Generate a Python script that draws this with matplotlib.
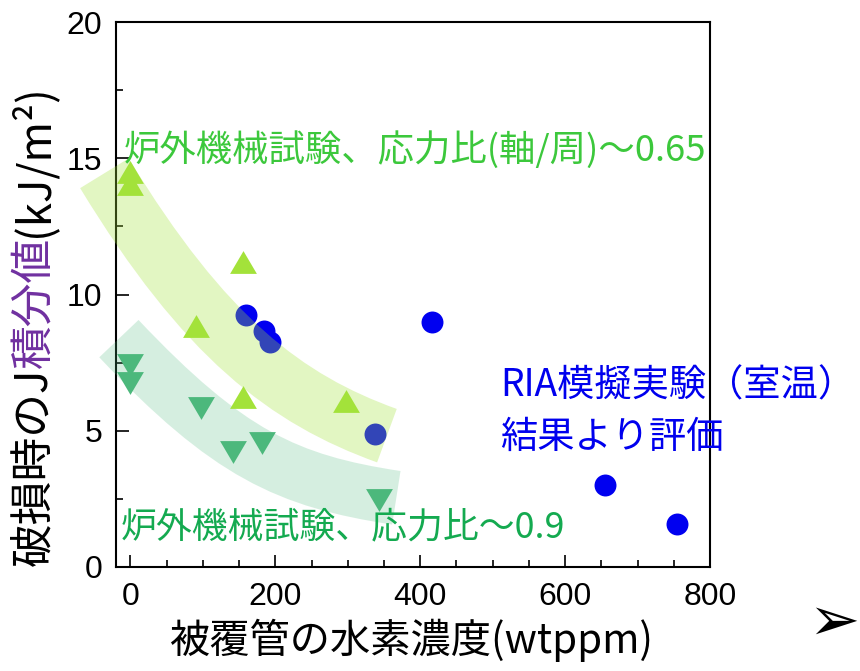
import matplotlib
matplotlib.use("Agg")
import matplotlib.pyplot as plt
from matplotlib.path import Path
from matplotlib.patches import PathPatch
from matplotlib.ticker import MultipleLocator

# ---- data -------------------------------------------------------------
# out-of-pile mechanical tests, biaxial stress ratio (axial/hoop) ~0.65
up_x = [0, 0, 90, 155, 155, 298]
up_y = [14.5, 14.05, 8.85, 11.2, 6.25, 6.1]

# out-of-pile mechanical tests, stress ratio ~0.9
down_x = [0, 0, 98, 141, 181, 343]
down_y = [7.4, 6.75, 5.82, 4.23, 4.56, 2.47]

# evaluated from RIA-simulating tests (room temperature)
ria_x = [160, 184, 193, 337, 416, 655, 755]
ria_y = [9.23, 8.66, 8.26, 4.89, 8.98, 3.0, 1.58]

# trend bands (cubic Bezier guide curves, data units)
band_hi_x = [-36, 102.5, 215.4, 354]
band_hi_y = [14.45, 8.40, 6.15, 4.82]
band_lo_x = [-16, 134.5, 216.5, 367]
band_lo_y = [8.38, 4.15, 3.15, 2.54]

x_ticks = [0, 200, 400, 600, 800]
y_ticks = [0, 5, 10, 15, 20]

# ---- style ------------------------------------------------------------
JP = ["Noto Sans CJK JP", "DejaVu Sans"]
NUM = ["Liberation Sans", "DejaVu Sans"]
c_up = "#a3e23a"
c_down = "#4cb87c"
c_ria = "#0000f0"

fig = plt.figure(figsize=(8.6, 6.71), dpi=100)
W, H = 860, 671
ax = fig.add_axes([116 / W, 1 - 567 / H, (710 - 116) / W, (567 - 22) / H])

ax.set_xlim(-20, 800)
ax.set_ylim(0, 20)

# equilateral-ish triangles
tri_up = [(-1, -0.85), (1, -0.85), (0, 0.85), (-1, -0.85)]
tri_down = [(-1, 0.85), (1, 0.85), (0, -0.85), (-1, 0.85)]

ax.plot(ria_x, ria_y, "o", ms=15.8, color=c_ria, mew=0, zorder=2, clip_on=False)


def band(xs, ys, color, alpha, lw):
    verts = list(zip(xs, ys))
    path = Path(verts, [Path.MOVETO, Path.CURVE4, Path.CURVE4, Path.CURVE4])
    patch = PathPatch(path, fill=False, edgecolor=color, alpha=alpha,
                      linewidth=lw, capstyle="butt", joinstyle="miter",
                      zorder=3, clip_on=False, transform=ax.transData)
    ax.add_patch(patch)


band(band_hi_x, band_hi_y, c_up, 0.31, 41)
band(band_lo_x, band_lo_y, c_down, 0.23, 39)

ax.plot(up_x, up_y, ls="none", marker=tri_up, ms=19.3, color=c_up, mew=0,
        zorder=4, clip_on=False)
ax.plot(down_x, down_y, ls="none", marker=tri_down, ms=19.3, color=c_down,
        mew=0, zorder=4, clip_on=False)

# axes frame and ticks
for sp in ax.spines.values():
    sp.set_linewidth(1.5)
ax.set_xticks(x_ticks)
ax.set_yticks(y_ticks)
ax.xaxis.set_minor_locator(MultipleLocator(50))
ax.yaxis.set_minor_locator(MultipleLocator(2.5))
ax.tick_params(which="both", direction="in", top=False, right=False, width=1.2)
ax.tick_params(which="major", length=9)
ax.tick_params(which="minor", length=5)
ax.tick_params(axis="x", which="major", pad=11)
ax.tick_params(axis="y", which="major", pad=10)
for lab in ax.get_xticklabels() + ax.get_yticklabels():
    lab.set_fontfamily(NUM)
    lab.set_fontsize(23)

# annotations
ax.text((124 - 116) / 594, (567 - 150) / 545, "炉外機械試験、応力比(軸/周)～0.65",
        color="#3cc83c", fontsize=26.2, family=JP, ha="left", va="center",
        transform=ax.transAxes, zorder=5)
ax.text((121 - 116) / 594, (567 - 527) / 545, "炉外機械試験、応力比～0.9",
        color="#14aa50", fontsize=25.8, family=JP, ha="left", va="center",
        transform=ax.transAxes, zorder=5)
ax.text((500 - 116) / 594, (567 - 386) / 545, "RIA模擬実験（室温）",
        color="#0000ee", fontsize=26.8, family=JP, ha="left", va="center",
        transform=ax.transAxes, zorder=5)
ax.text((500 - 116) / 594, (567 - 437) / 545, "結果より評価",
        color="#0000ee", fontsize=26.8, family=JP, ha="left", va="center",
        transform=ax.transAxes, zorder=5)

# x label
fig.text(411 / W, 1 - 640 / H, "被覆管の水素濃度(wtppm)", fontsize=29, family=JP,
         ha="center", va="center", color="black")

# y label in mixed colours, stacked bottom to top
renderer = fig.canvas.get_renderer()
parts = [("破損時のJ", "black"), ("積分値", "#7030a0"), ("(kJ/m²)", "black")]
ylab_fs = 31.5
ylab_x = 33 / W
ylab_center = 1 - 325 / H
texts = []
for s, c in parts:
    t = fig.text(ylab_x, 0, s, rotation=90, ha="center", va="bottom",
                 color=c, fontsize=ylab_fs, family=JP)
    texts.append(t)
heights = [t.get_window_extent(renderer).height / (H) for t in texts]
y = ylab_center - sum(heights) / 2
for t, h in zip(texts, heights):
    t.set_y(y)
    y += h

# navigation arrowhead
fig.text(834 / W, 1 - 623 / H, "➢", fontsize=44, family=["DejaVu Sans"],
         ha="center", va="center", color="black")

fig.savefig("out.png", dpi=100)
